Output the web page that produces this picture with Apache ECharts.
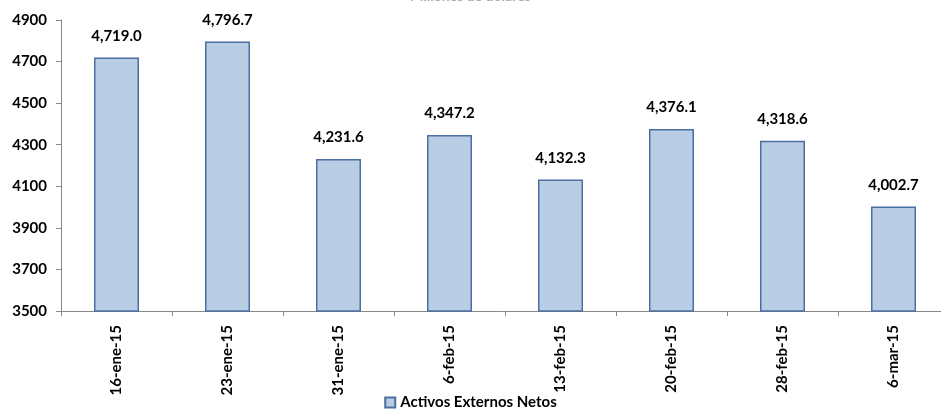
<!DOCTYPE html>
<html lang="es">
<head>
	<meta charset="UTF-8">
	<title>Activos Externos Netos</title>
	<script src="https://cdn.jsdelivr.net/npm/echarts@6/dist/echarts.min.js"></script>
	<style>
		html, body { margin: 0; padding: 0; background: #fff; }
	</style>
</head>
<body>
	<div id="chart" style="width: 941px;height: 411px;"></div>
	<script>
		var fechas = ['16-ene-15', '23-ene-15', '31-ene-15', '6-feb-15', '13-feb-15', '20-feb-15', '28-feb-15', '6-mar-15'];
		var activos = [4719.0, 4796.7, 4231.6, 4347.2, 4132.3, 4376.1, 4318.6, 4002.7];
		var serieNombre = 'Activos Externos Netos';
		var tituloTexto = 'Millones de dólares';

		var fuente = 'Lato';
		var myChart = echarts.init(document.getElementById('chart'));

		var option = {
			animation: false,
			title: {
				text: tituloTexto,
				left: 'center',
				top: -16,
				textStyle: { color: '#aaa', fontSize: 14, fontWeight: 'bold', fontFamily: fuente }
			},
			legend: {
				bottom: -4,
				left: 'center',
				itemWidth: 10,
				itemHeight: 10,
				itemGap: 4,
				icon: 'rect',
				textStyle: { color: '#000', fontSize: 15, fontWeight: 'bold', fontFamily: fuente },
				data: [serieNombre]
			},
			grid: {
				left: 61,
				top: 20,
				right: -8,
				height: 291,
				containLabel: false,
				outerBoundsMode: 'none'
			},
			xAxis: {
				type: 'category',
				data: fechas,
				axisLine: { lineStyle: { color: '#888' } },
				axisTick: { show: true, length: 5, lineStyle: { color: '#888' } },
				axisLabel: {
					rotate: 90,
					color: '#000',
					fontSize: 15,
					fontWeight: 'bold',
					fontFamily: fuente,
					margin: 14
				}
			},
			yAxis: {
				type: 'value',
				min: 3500,
				max: 4900,
				interval: 200,
				splitLine: { show: false },
				axisLine: { show: true, lineStyle: { color: '#888' } },
				axisTick: { show: true, length: 5, lineStyle: { color: '#888' } },
				axisLabel: {
					color: '#000',
					fontSize: 15,
					fontWeight: 'bold',
					fontFamily: fuente,
					margin: 14,
					formatter: function (v) { return String(v); }
				}
			},
			series: [{
				name: serieNombre,
				type: 'bar',
				barWidth: 45,
				data: activos,
				itemStyle: {
					color: '#b9cde5',
					borderColor: '#4a6fa0',
					borderWidth: 1.5
				},
				label: {
					show: true,
					position: 'top',
					distance: 14,
					color: '#000',
					fontSize: 15,
					fontWeight: 'bold',
					fontFamily: fuente,
					formatter: function (p) {
						return p.value.toLocaleString('en-US', { minimumFractionDigits: 1, maximumFractionDigits: 1 });
					}
				}
			}]
		};

		myChart.setOption(option);
	</script>
</body>
</html>
